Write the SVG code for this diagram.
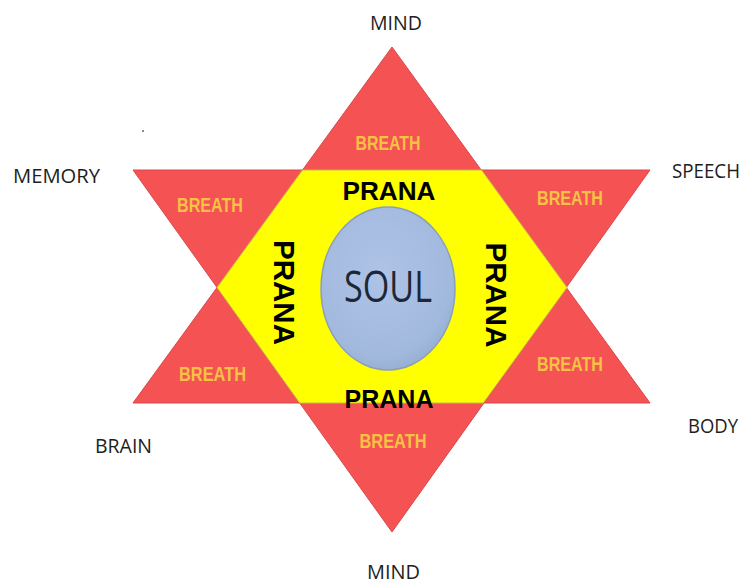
<svg xmlns="http://www.w3.org/2000/svg" width="744" height="586" viewBox="0 0 744 586">
<defs>
<style>
.tri{fill:#f55353;stroke:#d9474b;stroke-width:1;stroke-linejoin:miter}
.hex{fill:#ffff00;stroke:#c8b84a;stroke-width:1}
.breath{font-family:"Liberation Sans",Arial,sans-serif;font-size:20px;font-weight:bold;fill:#f6c244;text-anchor:middle}
.prana{font-family:"Liberation Sans",Arial,sans-serif;font-weight:bold;fill:#000;text-anchor:middle}
.lbl{font-family:"Open Sans","Liberation Sans",sans-serif;font-size:20px;fill:#1e1e1e}
</style>
<radialGradient id="soulG" cx="45%" cy="40%" r="65%">
<stop offset="0" stop-color="#aec3e6"/>
<stop offset="0.8" stop-color="#a2b9de"/>
<stop offset="1" stop-color="#94abd0"/>
</radialGradient>
</defs>
<rect width="744" height="586" fill="#ffffff"/>
<g id="star">
<polygon id="tri-up" class="tri" points="392,47 133,403 650,403"/>
<polygon id="tri-down" class="tri" points="133,170 650,170 392,532"/>
<polygon id="prana-hex" class="hex" points="302.5,170 481.5,170 567,287.5 483.3,403 299.7,403 217,287.5"/>
</g>
<g id="breaths">
<text class="breath" x="388" y="150" textLength="65" lengthAdjust="spacingAndGlyphs">BREATH</text>
<text class="breath" x="210" y="212" textLength="66" lengthAdjust="spacingAndGlyphs">BREATH</text>
<text class="breath" x="570" y="205" textLength="66" lengthAdjust="spacingAndGlyphs">BREATH</text>
<text class="breath" x="212.5" y="381" textLength="67" lengthAdjust="spacingAndGlyphs">BREATH</text>
<text class="breath" x="570" y="371" textLength="66" lengthAdjust="spacingAndGlyphs">BREATH</text>
<text class="breath" x="393" y="448" textLength="67" lengthAdjust="spacingAndGlyphs">BREATH</text>
</g>
<g id="soul">
<ellipse cx="388" cy="288.5" rx="67" ry="81.5" fill="url(#soulG)" stroke="#8c9fb8" stroke-width="1.5"/>
<text x="388" y="302" font-family="Open Sans,Liberation Sans,sans-serif" font-size="44" fill="#1c2838" text-anchor="middle" textLength="88" lengthAdjust="spacingAndGlyphs">SOUL</text>
</g>
<g id="pranas">
<text class="prana" x="389" y="200" font-size="26" textLength="93" lengthAdjust="spacingAndGlyphs">PRANA</text>
<text class="prana" x="389" y="408" font-size="26" textLength="89" lengthAdjust="spacingAndGlyphs">PRANA</text>
<text class="prana" font-size="30" transform="translate(274,292.5) rotate(90)" textLength="105" lengthAdjust="spacingAndGlyphs">PRANA</text>
<text class="prana" font-size="30" transform="translate(486,295) rotate(90)" textLength="105" lengthAdjust="spacingAndGlyphs">PRANA</text>
</g>
<g id="labels">
<text class="lbl" x="370" y="30" textLength="52" lengthAdjust="spacingAndGlyphs">MIND</text>
<text class="lbl" x="13" y="183" textLength="87" lengthAdjust="spacingAndGlyphs">MEMORY</text>
<text class="lbl" x="672" y="178" textLength="68" lengthAdjust="spacingAndGlyphs">SPEECH</text>
<text class="lbl" x="95" y="453" textLength="57" lengthAdjust="spacingAndGlyphs">BRAIN</text>
<text class="lbl" x="688" y="433" textLength="50" lengthAdjust="spacingAndGlyphs">BODY</text>
<text class="lbl" x="367" y="579" textLength="53" lengthAdjust="spacingAndGlyphs">MIND</text>
</g>
<circle cx="143" cy="131" r="1" fill="#666"/>
</svg>
